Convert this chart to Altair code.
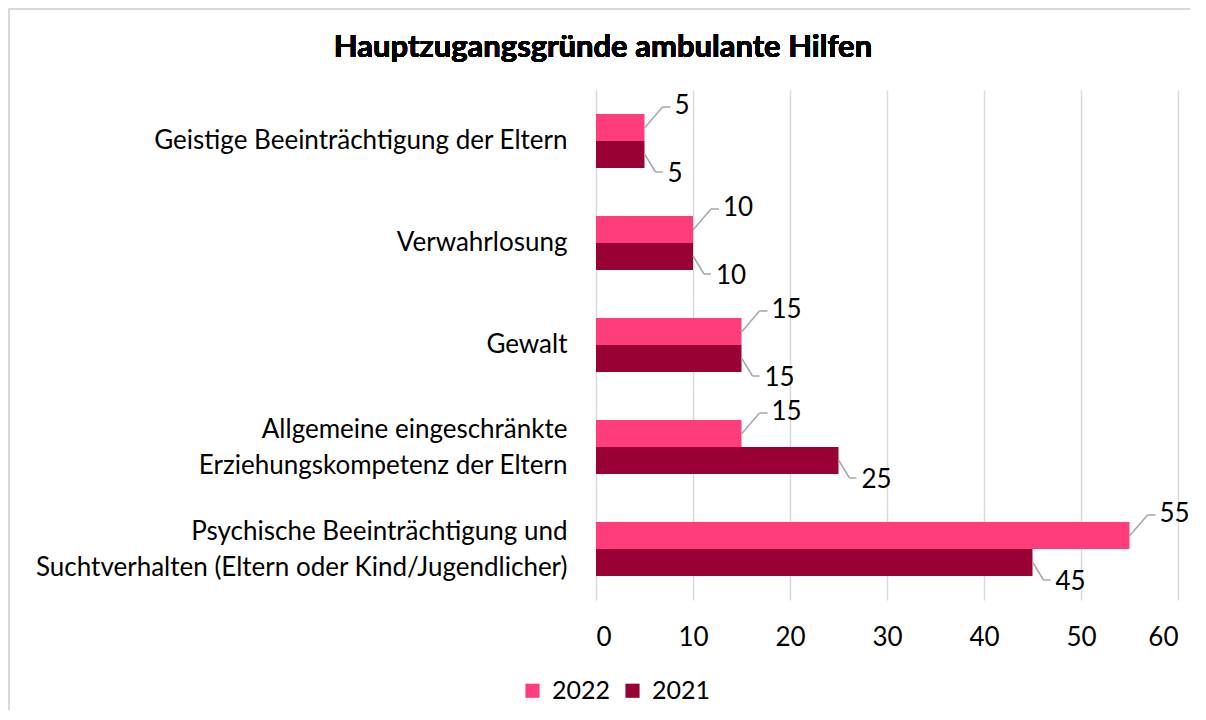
import altair as alt
import pandas as pd

categories = [
    "Geistige Beeinträchtigung der Eltern",
    "Verwahrlosung",
    "Gewalt",
    "Allgemeine eingeschränkte\nErziehungskompetenz der Eltern ",
    "Psychische Beeinträchtigung und\nSuchtverhalten (Eltern oder Kind/Jugendlicher)",
]
values_2022 = [5, 10, 15, 15, 55]
values_2021 = [5, 10, 15, 25, 45]
years = ["2022", "2021"]
colors = ["#FF3D7A", "#990033"]
x_ticks = [0, 10, 20, 30, 40, 50, 60]
title_text = "Hauptzugangsgründe ambulante Hilfen"

FONT = "Lato"
FS = 26
LINE = "#A6A6A6"

df = pd.DataFrame({
    "cat": categories * 2,
    "year": ["2022"] * len(categories) + ["2021"] * len(categories),
    "value": values_2022 + values_2021,
})

y_scale = alt.Scale(domain=categories, paddingInner=0.47, paddingOuter=0.235)
y_axis = alt.Axis(
    title=None, domain=False, ticks=False, grid=False,
    labelFont=FONT, labelFontSize=FS, labelColor="#000000",
    labelPadding=29, labelLimit=700, labelLineHeight=36,
    labelExpr="split(datum.label, '\\n')",
    labelOffset={"condition": {"test": "indexof(datum.value, '\\n') >= 0", "value": -17}, "value": 0},
)
x_scale = alt.Scale(domain=[0, 60], nice=False)
x_axis = alt.Axis(
    title=None, domain=False, ticks=False, grid=True, gridColor="#D9D9D9",
    gridWidth=1.5, values=x_ticks, labelFont=FONT, labelFontSize=FS,
    labelColor="#000000", labelPadding=24,
)


def xenc():
    return alt.X("value:Q", scale=x_scale, axis=x_axis)


def yenc():
    return alt.Y("cat:N", sort=categories, scale=y_scale, axis=y_axis)


bars = alt.Chart(df).mark_bar().encode(
    x=xenc(),
    y=yenc(),
    yOffset=alt.YOffset("year:N", sort=years, scale=alt.Scale(paddingInner=0, paddingOuter=0)),
    color=alt.Color(
        "year:N", sort=years, scale=alt.Scale(domain=years, range=colors),
        legend=alt.Legend(
            title=None, orient="none", direction="horizontal", legendX=-76, legendY=588,
            symbolType="square", symbolSize=200, symbolStrokeWidth=0,
            labelFont=FONT, labelFontSize=25, labelColor="#000000",
            labelOffset=7, columnPadding=9, padding=0,
        ),
    ),
)

top = alt.Chart(df).transform_filter(alt.datum.year == "2022")
bot = alt.Chart(df).transform_filter(alt.datum.year == "2021")

# leader lines 2022 (above)
l1a = top.mark_rule(color=LINE, strokeWidth=1.5, yOffset=-13, y2Offset=-34, xOffset=0, x2Offset=18).encode(
    x=xenc(), x2=alt.X2("value:Q"), y=yenc(), y2=alt.Y2("cat:N"))
l1b = top.mark_rule(color=LINE, strokeWidth=1.5, yOffset=-34, y2Offset=-34, xOffset=18, x2Offset=26).encode(
    x=xenc(), x2=alt.X2("value:Q"), y=yenc(), y2=alt.Y2("cat:N"))
t1 = top.mark_text(align="left", baseline="middle", dx=30, dy=-35, font=FONT, fontSize=FS, color="#000000").encode(
    x=xenc(), y=yenc(), text=alt.Text("value:Q"))

# leader lines 2021 (below)
l2a = bot.mark_rule(color=LINE, strokeWidth=1.5, yOffset=13, y2Offset=31, xOffset=0, x2Offset=11).encode(
    x=xenc(), x2=alt.X2("value:Q"), y=yenc(), y2=alt.Y2("cat:N"))
l2b = bot.mark_rule(color=LINE, strokeWidth=1.5, yOffset=31, y2Offset=31, xOffset=11, x2Offset=18).encode(
    x=xenc(), x2=alt.X2("value:Q"), y=yenc(), y2=alt.Y2("cat:N"))
t2 = bot.mark_text(align="left", baseline="middle", dx=23, dy=33, font=FONT, fontSize=FS, color="#000000").encode(
    x=xenc(), y=yenc(), text=alt.Text("value:Q"))

# chart frame (decoration) and title
frame_top = alt.Chart(df).mark_rule(color="#D9D9D9", strokeWidth=2).encode(
    x=alt.value(-588), x2=alt.value(620), y=alt.value(-81))
frame_left = alt.Chart(df).mark_rule(color="#D9D9D9", strokeWidth=2).encode(
    x=alt.value(-587), y=alt.value(-81), y2=alt.value(640))
title = alt.Chart(df).mark_text(
    font=FONT, fontSize=31, fontWeight="bold", color="#000000", align="center", baseline="middle"
).encode(x=alt.value(7), y=alt.value(-42), text=alt.value(title_text))

chart = alt.layer(frame_top, frame_left, title, bars, l1a, l1b, l2a, l2b, t1, t2).properties(
    width=582,
    height=510,
    padding={"left": 588, "top": 82, "right": 12, "bottom": 110},
    autosize=alt.AutoSizeParams(type="none"),
).configure_view(stroke=None)

chart.save("out.html", embed_options={"renderer": "svg", "actions": False})
